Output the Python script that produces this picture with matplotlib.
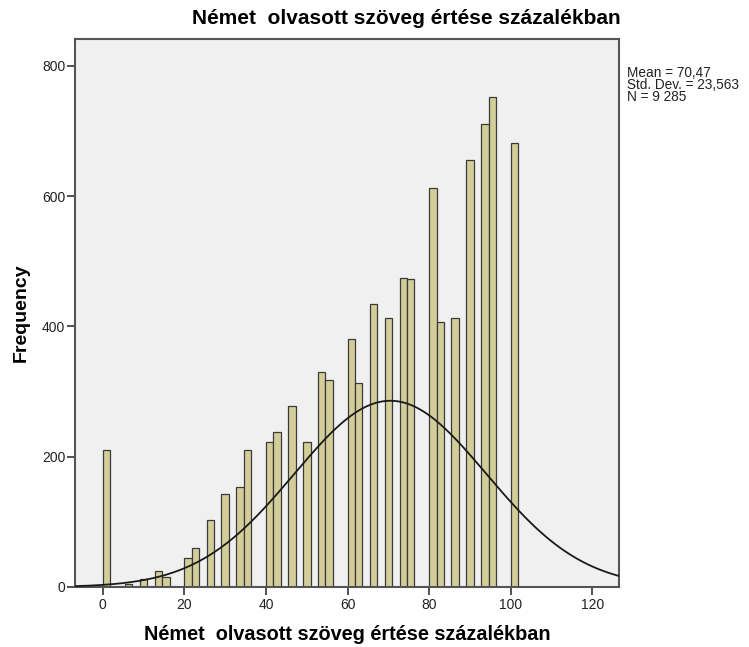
import numpy as np
import matplotlib
matplotlib.use("Agg")
import matplotlib.pyplot as plt

plt.rcParams['font.family'] = ['Liberation Sans', 'DejaVu Sans']

# histogram (bin width 100/55)
bin_width = 100 / 55
bin_start = [0.0, 5.45, 9.09, 12.73, 14.55, 20.0, 21.82, 25.45, 29.09, 32.73,
             34.55, 40.0, 41.82, 45.45, 49.09, 52.73, 54.55, 60.0, 61.82, 65.45,
             69.09, 72.73, 74.55, 80.0, 81.82, 85.45, 89.09, 92.73, 94.55, 100.0]
freq = [211, 5, 13, 25, 16, 44, 60, 103, 143, 153,
        210, 223, 238, 278, 222, 330, 318, 380, 313, 434,
        413, 474, 472, 612, 407, 413, 655, 711, 752, 681]

mean = 70.47
sd = 23.563
n = 9285

title = "Német  olvasott szöveg értése százalékban"

fig = plt.figure(figsize=(7.49, 6.47), dpi=100)
ax = fig.add_axes([75/749, 1-587/647, (619-75)/749, (587-39)/647])
ax.set_facecolor('#f0f0f0')

ax.bar(bin_start, freq, width=bin_width, align='edge', color='#d3ce98',
       edgecolor='#3a3a3a', linewidth=0.9, zorder=2)

# normal curve from the reported stats
xs = np.linspace(-7, 127, 400)
curve = n * bin_width * np.exp(-0.5 * ((xs - mean) / sd) ** 2) / (sd * np.sqrt(2 * np.pi))
ax.plot(xs, curve, color='#1a1a1a', linewidth=1.3, zorder=3)

ax.set_xlim(-6.8, 126.5)
ax.set_ylim(0, 841)
ax.set_xticks([0, 20, 40, 60, 80, 100, 120])
ax.set_yticks([0, 200, 400, 600, 800])
ax.tick_params(direction='out', length=6, width=1.2, color='#333333',
               labelsize=10, labelcolor='#222222', pad=1)
ax.tick_params(axis='x', pad=2)
for s in ax.spines.values():
    s.set_color('#555555')
    s.set_linewidth(1.5)

ax.set_xlabel(title, fontsize=14.3, fontweight='bold', labelpad=9)
ax.set_ylabel("Frequency", fontsize=14, fontweight='bold', labelpad=9)

fig.text(406/749, 1-19/647, title, fontsize=15, fontweight='bold',
         ha='center', va='center')
fig.text(627/749, 1-66/647, "Mean = 70,47\nStd. Dev. = 23,563\nN = 9 285",
         fontsize=9.8, ha='left', va='top', linespacing=0.8, color='#222222')

fig.savefig("out.png", dpi=100)
